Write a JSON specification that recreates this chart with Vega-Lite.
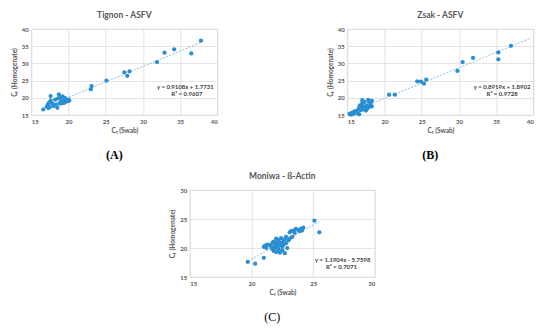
{
  "$schema": "https://vega.github.io/schema/vega-lite/v6.json",
  "padding": {"left": 11, "top": 10, "right": 4, "bottom": 2},
  "autosize": {"type": "pad"},
  "background": "white",
  "datasets": {
    "tignon": [
      {"swab": 16.6, "homog": 16.6}, {"swab": 17.1, "homog": 17.4}, {"swab": 17.2, "homog": 18.0},
      {"swab": 17.3, "homog": 17.0}, {"swab": 17.4, "homog": 18.6}, {"swab": 17.5, "homog": 17.3},
      {"swab": 17.6, "homog": 20.5}, {"swab": 17.6, "homog": 19.2}, {"swab": 17.8, "homog": 18.4},
      {"swab": 18.0, "homog": 17.6}, {"swab": 18.2, "homog": 19.5}, {"swab": 18.3, "homog": 18.0},
      {"swab": 18.5, "homog": 17.1}, {"swab": 18.6, "homog": 19.8}, {"swab": 18.7, "homog": 21.0},
      {"swab": 18.8, "homog": 18.3}, {"swab": 18.9, "homog": 20.1}, {"swab": 19.0, "homog": 19.0},
      {"swab": 19.1, "homog": 18.4}, {"swab": 19.2, "homog": 20.4}, {"swab": 19.3, "homog": 19.2},
      {"swab": 19.4, "homog": 18.5}, {"swab": 19.5, "homog": 20.0}, {"swab": 19.6, "homog": 18.8},
      {"swab": 19.7, "homog": 19.3}, {"swab": 19.9, "homog": 19.0}, {"swab": 20.0, "homog": 19.5},
      {"swab": 20.1, "homog": 19.2}, {"swab": 23.0, "homog": 22.5}, {"swab": 23.1, "homog": 23.4},
      {"swab": 25.1, "homog": 25.0}, {"swab": 27.5, "homog": 27.4}, {"swab": 27.9, "homog": 26.4},
      {"swab": 28.2, "homog": 27.7}, {"swab": 31.9, "homog": 30.4}, {"swab": 32.9, "homog": 33.1},
      {"swab": 34.2, "homog": 34.1}, {"swab": 36.5, "homog": 32.9}, {"swab": 37.8, "homog": 36.6}
    ],
    "zsak": [
      {"swab": 15.3, "homog": 15.3}, {"swab": 15.5, "homog": 15.1}, {"swab": 15.6, "homog": 15.6},
      {"swab": 15.8, "homog": 15.3}, {"swab": 15.9, "homog": 16.0}, {"swab": 16.1, "homog": 15.7},
      {"swab": 16.2, "homog": 16.2}, {"swab": 16.4, "homog": 15.5}, {"swab": 16.5, "homog": 16.6},
      {"swab": 16.6, "homog": 15.2}, {"swab": 16.6, "homog": 17.2}, {"swab": 16.7, "homog": 17.8},
      {"swab": 16.8, "homog": 16.4}, {"swab": 16.9, "homog": 16.9}, {"swab": 17.0, "homog": 19.3},
      {"swab": 17.0, "homog": 18.4}, {"swab": 17.1, "homog": 17.6}, {"swab": 17.2, "homog": 16.6},
      {"swab": 17.3, "homog": 18.8}, {"swab": 17.4, "homog": 17.2}, {"swab": 17.5, "homog": 16.3},
      {"swab": 17.6, "homog": 17.8}, {"swab": 17.7, "homog": 16.9}, {"swab": 17.8, "homog": 19.4},
      {"swab": 17.9, "homog": 18.9}, {"swab": 18.0, "homog": 17.4}, {"swab": 18.1, "homog": 18.2},
      {"swab": 18.2, "homog": 19.0}, {"swab": 18.3, "homog": 17.5}, {"swab": 18.3, "homog": 19.1},
      {"swab": 20.6, "homog": 20.9}, {"swab": 21.4, "homog": 20.9}, {"swab": 24.4, "homog": 24.8},
      {"swab": 24.9, "homog": 24.7}, {"swab": 25.3, "homog": 24.1}, {"swab": 25.6, "homog": 25.3},
      {"swab": 29.8, "homog": 27.8}, {"swab": 30.5, "homog": 30.4}, {"swab": 31.9, "homog": 31.6},
      {"swab": 35.3, "homog": 33.2}, {"swab": 35.3, "homog": 31.2}, {"swab": 37.0, "homog": 35.1}
    ],
    "moniwa": [
      {"swab": 19.7, "homog": 17.6}, {"swab": 20.3, "homog": 17.3}, {"swab": 21.0, "homog": 18.3},
      {"swab": 21.0, "homog": 20.2}, {"swab": 21.1, "homog": 20.4}, {"swab": 21.2, "homog": 20.0},
      {"swab": 21.3, "homog": 20.6}, {"swab": 21.5, "homog": 20.5}, {"swab": 21.6, "homog": 20.2},
      {"swab": 21.7, "homog": 19.8}, {"swab": 21.7, "homog": 20.9}, {"swab": 21.8, "homog": 21.1},
      {"swab": 21.8, "homog": 19.5}, {"swab": 21.9, "homog": 20.4}, {"swab": 21.9, "homog": 20.0},
      {"swab": 22.0, "homog": 21.6}, {"swab": 22.0, "homog": 20.7}, {"swab": 22.0, "homog": 19.3},
      {"swab": 22.1, "homog": 20.1}, {"swab": 22.1, "homog": 21.0}, {"swab": 22.2, "homog": 19.8},
      {"swab": 22.2, "homog": 21.4}, {"swab": 22.3, "homog": 20.5}, {"swab": 22.3, "homog": 19.2},
      {"swab": 22.4, "homog": 20.9}, {"swab": 22.4, "homog": 21.7}, {"swab": 22.5, "homog": 20.2},
      {"swab": 22.5, "homog": 19.6}, {"swab": 22.6, "homog": 21.2}, {"swab": 22.6, "homog": 20.6},
      {"swab": 22.7, "homog": 21.5}, {"swab": 22.7, "homog": 19.1}, {"swab": 22.8, "homog": 20.8},
      {"swab": 22.8, "homog": 21.9}, {"swab": 22.9, "homog": 20.0}, {"swab": 23.0, "homog": 21.3},
      {"swab": 23.1, "homog": 21.6}, {"swab": 23.1, "homog": 22.7}, {"swab": 23.2, "homog": 22.9},
      {"swab": 23.3, "homog": 21.9}, {"swab": 23.4, "homog": 23.0}, {"swab": 23.5, "homog": 22.6},
      {"swab": 23.6, "homog": 23.3}, {"swab": 23.8, "homog": 23.1}, {"swab": 23.9, "homog": 22.9},
      {"swab": 24.0, "homog": 23.3}, {"swab": 24.1, "homog": 23.0}, {"swab": 24.2, "homog": 23.5},
      {"swab": 25.1, "homog": 24.7}, {"swab": 25.5, "homog": 22.7}
    ]
  },
  "vconcat": [
    {
      "hconcat": [
        {
          "title": {"text": "(A)", "orient": "bottom", "anchor": "middle", "font": "Liberation Serif", "fontSize": 12, "fontWeight": "bold", "color": "#000000", "offset": 16},
          "vconcat": [
            {
              "width": 186, "height": 86,
              "title": {"text": "Tignon - ASFV"},
              "encoding": {
                "x": {"field": "swab", "type": "quantitative", "scale": {"domain": [15, 40], "nice": false}, "axis": {"values": [15, 20, 25, 30, 35, 40], "labelOverlap": false, "tickCount": 6}, "title": "Cₜ (Swab)"},
                "y": {"field": "homog", "type": "quantitative", "scale": {"domain": [15, 40], "nice": false}, "axis": {"values": [15, 20, 25, 30, 35, 40], "labelOverlap": false, "tickCount": 6}, "title": "Cₜ (Homogenate)"}
              },
              "layer": [
                {
                  "data": {"name": "tignon"},
                  "transform": [{"regression": "homog", "on": "swab"}],
                  "mark": {"type": "line", "color": "#7db8e3", "strokeWidth": 0.9, "strokeDash": [2, 1.5]}
                },
                {
                  "data": {"name": "tignon"},
                  "mark": {"type": "circle", "size": 18, "color": "#2a8ed3", "opacity": 1}
                },
                {
                  "data": {"values": [{"swab": 35.7, "homog": 23.0, "t": "y = 0.9108x + 1.7731"}, {"swab": 35.9, "homog": 21.1, "t": "R² = 0.9607"}]},
                  "mark": {"type": "text", "fontSize": 6, "fontWeight": "bold", "color": "#404040", "font": "Lato"},
                  "encoding": {"text": {"field": "t"}}
                }
              ]
            }
          ]
        },
        {
          "title": {"text": "(B)", "orient": "bottom", "anchor": "middle", "font": "Liberation Serif", "fontSize": 12, "fontWeight": "bold", "color": "#000000", "offset": 16},
          "vconcat": [
            {
              "width": 186, "height": 86,
              "title": {"text": "Zsak - ASFV"},
              "encoding": {
                "x": {"field": "swab", "type": "quantitative", "scale": {"domain": [15, 40], "nice": false}, "axis": {"values": [15, 20, 25, 30, 35, 40], "labelOverlap": false, "tickCount": 6}, "title": "Cₜ (Swab)"},
                "y": {"field": "homog", "type": "quantitative", "scale": {"domain": [15, 40], "nice": false}, "axis": {"values": [15, 20, 25, 30, 35, 40], "labelOverlap": false, "tickCount": 6}, "title": "Cₜ (Homogenate)"}
              },
              "layer": [
                {
                  "data": {"name": "zsak"},
                  "transform": [{"regression": "homog", "on": "swab", "extent": [15.3, 39.6]}],
                  "mark": {"type": "line", "color": "#7db8e3", "strokeWidth": 0.9, "strokeDash": [2, 1.5]}
                },
                {
                  "data": {"name": "zsak"},
                  "mark": {"type": "circle", "size": 18, "color": "#2a8ed3", "opacity": 1}
                },
                {
                  "data": {"values": [{"swab": 35.8, "homog": 23.0, "t": "y = 0.8919x + 1.8902"}, {"swab": 35.8, "homog": 21.1, "t": "R² = 0.9728"}]},
                  "mark": {"type": "text", "fontSize": 6, "fontWeight": "bold", "color": "#404040", "font": "Lato"},
                  "encoding": {"text": {"field": "t"}}
                }
              ]
            }
          ]
        }
      ],
      "spacing": 108
    },
    {
      "title": {"text": "(C)", "orient": "bottom", "anchor": "middle", "font": "Liberation Serif", "fontSize": 12, "fontWeight": "normal", "color": "#000000", "offset": 16},
      "vconcat": [
        {
          "width": 185, "height": 87,
          "title": {"text": "Moniwa - ß-Actin"},
          "encoding": {
            "x": {"field": "swab", "type": "quantitative", "scale": {"domain": [15, 30], "nice": false}, "axis": {"values": [15, 20, 25, 30], "labelOverlap": false, "tickCount": 4}, "title": "Cₜ (Swab)"},
            "y": {"field": "homog", "type": "quantitative", "scale": {"domain": [15, 30], "nice": false}, "axis": {"values": [15, 20, 25, 30], "labelOverlap": false, "tickCount": 4}, "title": "Cₜ (Homogenate)"}
          },
          "layer": [
            {
              "data": {"name": "moniwa"},
              "transform": [{"regression": "homog", "on": "swab"}],
              "mark": {"type": "line", "color": "#7db8e3", "strokeWidth": 0.9, "strokeDash": [2, 1.5]}
            },
            {
              "data": {"name": "moniwa"},
              "mark": {"type": "circle", "size": 18, "color": "#2a8ed3", "opacity": 1}
            },
            {
              "data": {"values": [{"swab": 27.4, "homog": 18.0, "t": "y = 1.1904x - 5.7598"}, {"swab": 27.3, "homog": 16.7, "t": "R² = 0.7071"}]},
              "mark": {"type": "text", "fontSize": 6, "fontWeight": "bold", "color": "#404040", "font": "Lato"},
              "encoding": {"text": {"field": "t"}}
            }
          ]
        }
      ]
    }
  ],
  "spacing": 10,
  "center": true,
  "config": {
    "view": {"stroke": "#d9d9d9", "strokeWidth": 0.7},
    "title": {"font": "Lato", "fontSize": 8.5, "fontWeight": "bold", "color": "#595959", "offset": 7},
    "axis": {
      "domain": false,
      "ticks": false,
      "grid": true,
      "gridColor": "#d9d9d9",
      "gridWidth": 0.7,
      "labelOverlap": false,
      "labelFont": "Lato",
      "labelFontSize": 6,
      "labelFontWeight": "bold",
      "labelColor": "#595959",
      "labelPadding": 3,
      "titleFont": "Lato",
      "titleFontSize": 6.5,
      "titleFontWeight": "bold",
      "titleColor": "#595959",
      "titlePadding": 3
    },
    "axisY": {"titlePadding": 4}
  }
}
